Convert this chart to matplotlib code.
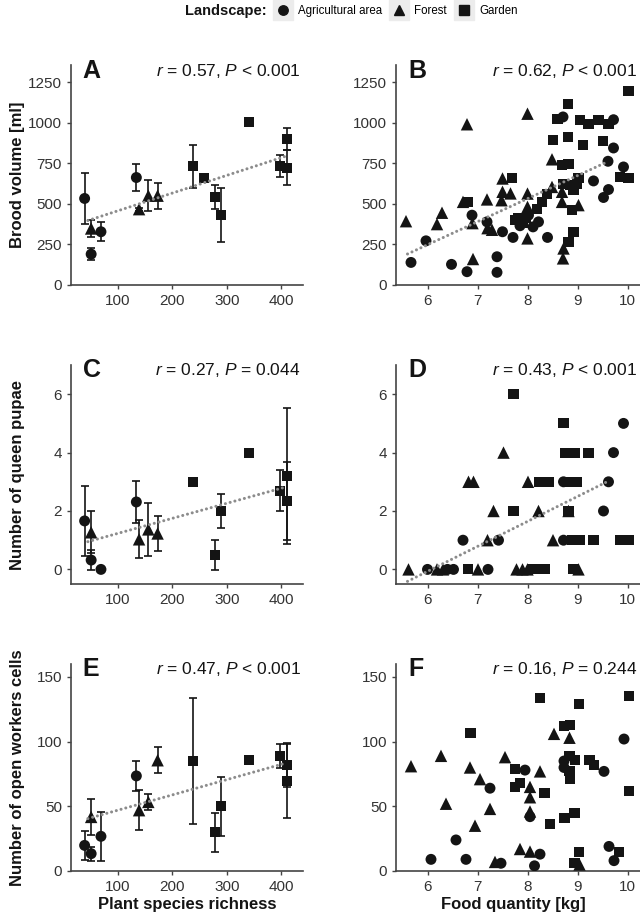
import numpy as np
import matplotlib
matplotlib.use('Agg')
import matplotlib.pyplot as plt
from matplotlib.lines import Line2D
from matplotlib.legend_handler import HandlerTuple

plt.rcParams['font.family'] = ['Liberation Sans', 'DejaVu Sans']
plt.rcParams['mathtext.fontset'] = 'custom'
plt.rcParams['mathtext.rm'] = 'Liberation Sans'
plt.rcParams['mathtext.it'] = 'Liberation Sans:italic'

# ---- site means vs plant species richness (panels A, C, E) ----
site_land = ['Agricultural area'] * 4 + ['Forest'] * 4 + ['Garden'] * 8
site_richness = [39, 51, 69, 134, 51, 139, 156, 173, 238, 259, 278, 289, 341, 398, 411, 411]

brood_mean = [533, 190, 328, 662, 348, 467, 550, 550, 730, 660, 540, 430, 1002, 732, 723, 900]
brood_se = [157, 35, 60, 85, 54, 10, 94, 79, 132, 0, 73, 168, 0, 66, 107, 69]

queen_mean = [1.66, 0.32, 0.0, 2.31, 1.27, 1.03, 1.37, 1.23, 3.0, np.nan, 0.49, 2.0, 4.0, 2.69, 3.2, 2.34]
queen_se = [1.2, 0.33, 0.0, 0.72, 0.72, 0.65, 0.9, 0.6, 0.0, np.nan, 0.5, 0.58, 0.0, 0.7, 2.34, 1.33]

workers_mean = [19.8, 13.4, 26.8, 73.5, 41.8, 47, 53.4, 85.6, 85, np.nan, 30, 50, 86, 89, 82, 69.6]
workers_se = [11, 5.5, 19, 11.7, 13.8, 15.4, 6, 10, 49, np.nan, 15, 22.6, 0, 9, 17, 28.6]

# ---- colonies vs food quantity (panels B, D, F) ----
brood_food = {
    'Agricultural area': ([5.67, 5.97, 6.48, 6.79, 6.89, 7.19, 7.39, 7.39, 7.5, 7.71, 7.85, 7.97, 8.02,
                           8.11, 8.22, 8.4, 8.71, 9.32, 9.52, 9.62, 9.61, 9.72, 9.72, 9.92],
                          [139, 272, 127, 82, 430, 389, 174, 78, 328, 293, 365, 420, 430,
                           358, 389, 293, 1035, 641, 539, 588, 762, 844, 1018, 727]),
    'Forest': ([5.57, 6.19, 6.29, 6.71, 6.79, 6.9, 6.91, 7.19, 7.2, 7.29, 7.5, 7.5, 7.48, 7.66,
                8.0, 8.0, 8.0, 8.0, 8.49, 8.49, 8.69, 8.69, 9.02, 8.72, 8.71],
               [393, 375, 445, 512, 990, 381, 160, 527, 350, 340, 656, 574, 522, 564,
                1055, 563, 481, 287, 774, 604, 574, 512, 492, 225, 164]),
    'Garden': ([6.81, 7.69, 7.76, 7.82, 7.9, 7.96, 8.19, 8.29, 8.39, 8.51, 8.6, 8.69, 8.72, 8.81,
                8.82, 8.81, 8.82, 8.85, 8.89, 8.92, 8.92, 8.99, 9.02, 9.05, 9.11, 9.22, 9.42, 9.51,
                9.62, 9.85, 10.02, 10.02],
               [512, 662, 400, 410, 380, 410, 471, 512, 563, 891, 1025, 738, 625, 1117,
                748, 912, 266, 615, 461, 584, 328, 625, 656, 1018, 860, 994, 1014, 885,
                990, 666, 656, 1192]),
}

queen_food = {
    'Agricultural area': ([6.0, 6.4, 6.52, 7.21, 6.71, 7.42, 8.72, 9.52, 8.72, 9.62, 9.72, 9.92],
                          [0, 0, 0, 0, 1, 1, 1, 2, 3, 3, 4, 5]),
    'Forest': ([5.62, 6.19, 6.31, 7.01, 7.78, 7.9, 8.0, 9.02, 7.2, 8.51, 7.32, 8.22, 8.82,
                6.82, 6.92, 8.01, 7.52],
               [0, 0, 0, 0, 0, 0, 0, 0, 1, 1, 2, 2, 2, 3, 3, 3, 4]),
    'Garden': ([6.81, 8.12, 8.25, 8.35, 8.92, 8.9, 9.05, 9.32, 9.85, 10.02, 7.72, 8.82,
                8.23, 8.42, 8.85, 8.99, 8.75, 8.95, 9.22, 8.72, 7.72],
               [0, 0, 0, 0, 0, 1, 1, 1, 1, 1, 2, 2, 3, 3, 3, 3, 4, 4, 4, 5, 6]),
}

workers_food = {
    'Agricultural area': ([6.07, 6.57, 6.77, 7.25, 7.47, 7.95, 8.05, 8.14, 8.25, 8.73, 8.73,
                           9.53, 9.63, 9.73, 9.93],
                          [9, 24, 9, 64, 6, 78, 42, 4, 13, 85, 80, 77, 19, 8, 102]),
    'Forest': ([5.67, 6.27, 6.37, 6.85, 7.05, 6.95, 7.25, 7.35, 7.55, 7.85, 8.05, 8.05, 8.05,
                8.05, 8.25, 8.53, 8.84, 9.04],
               [81, 89, 52, 80, 71, 35, 48, 7, 88, 17, 15, 65, 57, 46, 77, 106, 103, 5]),
    'Garden': ([6.86, 8.25, 9.03, 8.73, 8.85, 8.84, 8.95, 8.84, 8.85, 7.75, 7.75, 7.85, 8.34,
                8.45, 8.74, 8.94, 9.24, 9.33, 9.03, 8.94, 9.83, 10.03, 10.03],
               [107, 134, 129, 112, 113, 89, 86, 77, 71, 79, 65, 68, 60,
                36, 41, 45, 86, 82, 15, 6, 15, 135, 62]),
}

# dotted trend lines (end points)
trend_left_x = [45, 410]
trend_right_x = [5.6, 9.6]
trend_A = [397, 795]
trend_B = [191, 759]
trend_C = [0.95, 2.83]
trend_D = [-0.41, 3.01]
trend_E = [40.5, 83.6]

stats = {
    'A': r'$r$ = 0.57, $P$ < 0.001',
    'B': r'$r$ = 0.62, $P$ < 0.001',
    'C': r'$r$ = 0.27, $P$ = 0.044',
    'D': r'$r$ = 0.43, $P$ < 0.001',
    'E': r'$r$ = 0.47, $P$ < 0.001',
    'F': r'$r$ = 0.16, $P$ = 0.244',
}

landscapes = ['Agricultural area', 'Forest', 'Garden']
markers = {'Agricultural area': 'o', 'Forest': '^', 'Garden': 's'}
sizes = {'Agricultural area': 62, 'Forest': 80, 'Garden': 52}
ink = '#141414'
axis_col = '#444444'

fig = plt.figure(figsize=(6.4, 9.18), dpi=100)


def pos(l, t, r, b):
    return [l / 640, 1 - b / 918, (r - l) / 640, (b - t) / 918]


rows = [(65, 285), (365, 584), (664, 871)]
axes = {}
for i, (t, b) in enumerate(rows):
    axes['ACE'[i]] = fig.add_axes(pos(71, t, 303, b))
    axes['BDF'[i]] = fig.add_axes(pos(396, t, 640, b))


def style(ax, letter):
    for s in ['top', 'right']:
        ax.spines[s].set_visible(False)
    for s in ['left', 'bottom']:
        ax.spines[s].set_color(axis_col)
        ax.spines[s].set_linewidth(1.2)
    ax.tick_params(colors=axis_col, labelcolor='#333333', labelsize=11, length=3, width=1)
    ax.text(0.05, 0.975, letter, transform=ax.transAxes, fontsize=18, fontweight='bold',
            ha='left', va='center', color=ink)
    ax.text(0.99, 0.975, stats[letter], transform=ax.transAxes, fontsize=12.5,
            ha='right', va='center', color=ink)


def site_panel(ax, mean, se):
    land = np.array(site_land)
    x = np.array(site_richness, dtype=float)
    m = np.array(mean, dtype=float)
    e = np.array(se, dtype=float)
    for lab in landscapes:
        k = land == lab
        ax.errorbar(x[k], m[k], yerr=e[k], fmt='none', ecolor=ink, elinewidth=1.2,
                    capsize=3.2, capthick=1.2, zorder=2)
        ax.scatter(x[k], m[k], marker=markers[lab], s=sizes[lab], color=ink,
                   edgecolors='none', zorder=3)


def food_panel(ax, data):
    for lab in landscapes:
        fx, fy = data[lab]
        ax.scatter(fx, fy, marker=markers[lab], s=sizes[lab], color=ink,
                   edgecolors='none', zorder=3)


def trend(ax, xs, ys):
    ax.plot(xs, ys, color='#8c8c8c', lw=2.2, linestyle=(0, (0.01, 1.6)),
            dash_capstyle='round', solid_capstyle='round', zorder=4)


site_panel(axes['A'], brood_mean, brood_se)
site_panel(axes['C'], queen_mean, queen_se)
site_panel(axes['E'], workers_mean, workers_se)
food_panel(axes['B'], brood_food)
food_panel(axes['D'], queen_food)
food_panel(axes['F'], workers_food)

trend(axes['A'], trend_left_x, trend_A)
trend(axes['C'], trend_left_x, trend_C)
trend(axes['E'], trend_left_x, trend_E)
trend(axes['B'], trend_right_x, trend_B)
trend(axes['D'], trend_right_x, trend_D)

for k in 'ACE':
    axes[k].set_xlim(14, 440)
    axes[k].set_xticks([100, 200, 300, 400])
for k in 'BDF':
    axes[k].set_xlim(5.37, 10.25)
    axes[k].set_xticks([6, 7, 8, 9, 10])
for k in 'AB':
    axes[k].set_ylim(0, 1355)
    axes[k].set_yticks([0, 250, 500, 750, 1000, 1250])
for k in 'CD':
    axes[k].set_ylim(-0.5, 7)
    axes[k].set_yticks([0, 2, 4, 6])
for k in 'EF':
    axes[k].set_ylim(0, 160)
    axes[k].set_yticks([0, 50, 100, 150])

for k in 'ABCDEF':
    style(axes[k], k)

ylabels = {'A': 'Brood volume [ml]', 'C': 'Number of queen pupae',
           'E': 'Number of open workers cells'}
for k, lab in ylabels.items():
    axes[k].set_ylabel(lab, fontsize=12, fontweight='bold', color=ink)
    axes[k].yaxis.set_label_coords(-0.2, 0.5)
axes['E'].set_xlabel('Plant species richness', fontsize=12, fontweight='bold', color=ink)
axes['F'].set_xlabel('Food quantity [kg]', fontsize=12, fontweight='bold', color=ink)
axes['E'].xaxis.set_label_coords(0.5, -0.125)
axes['F'].xaxis.set_label_coords(0.48, -0.125)

# legend across the top
fig.text(185 / 640, 1 - 11 / 918, 'Landscape:', fontsize=10.5, fontweight='bold',
         ha='left', va='center', color=ink)
handles = [(Line2D([], [], marker='s', color='#ececec', linestyle='none', markersize=15),
            Line2D([], [], marker=markers[lab], color=ink, linestyle='none',
                   markersize=7.5 if lab == 'Forest' else 6.8))
           for lab in landscapes]
fig.legend(handles, landscapes, loc='center left', bbox_to_anchor=(272 / 640, 1 - 11 / 918),
           ncol=3, frameon=False, fontsize=8.3, handler_map={tuple: HandlerTuple(ndivide=1)},
           handlelength=1.9, handletextpad=0.35, columnspacing=0.55,
           borderpad=0, borderaxespad=0)

fig.savefig('out.png', dpi=100)
